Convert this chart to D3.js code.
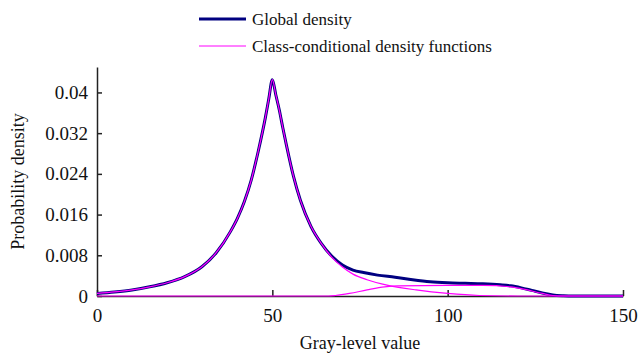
<!DOCTYPE html>
<html>
<head>
<meta charset="utf-8">
<script src="https://cdn.jsdelivr.net/npm/d3@7"></script>
<style>
  body { margin: 0; }
  svg text { font-family: 'Liberation Serif', Tinos, 'Times New Roman', serif !important; fill: #111; }
</style>
</head>
<body>
<script>
// Datos (nivel de gris vs densidad)
grisGlobal = [0, 5, 10, 15, 20, 25, 30, 34, 38, 40, 42, 44, 46, 48, 49, 50, 51, 52, 53, 54, 56, 58, 61, 64, 67, 70, 73, 76, 80, 85, 90, 95, 100, 105, 110, 115, 118, 121, 124, 127, 130, 133, 136, 150]
densGlobal = [0.0005, 0.0008, 0.0012, 0.0018, 0.0026, 0.0038, 0.0058, 0.0085, 0.0126, 0.0152, 0.0185, 0.0228, 0.0285, 0.035, 0.0388, 0.0425, 0.0395, 0.0365, 0.033, 0.0297, 0.0236, 0.0188, 0.0137, 0.0103, 0.0078, 0.0061, 0.0051, 0.0046, 0.0041, 0.0037, 0.0032, 0.0028, 0.0026, 0.0025, 0.0024, 0.0022, 0.002, 0.0016, 0.0011, 0.0006, 0.0002, 0.00005, 0, 0]

grisClase1 = [0, 5, 10, 15, 20, 25, 30, 34, 38, 40, 42, 44, 46, 48, 49, 50, 51, 52, 53, 54, 56, 58, 61, 64, 67, 70, 73, 77, 83, 91, 100, 109, 120, 150]
densClase1 = [0.0005, 0.0008, 0.0012, 0.0018, 0.0026, 0.0038, 0.0058, 0.0085, 0.0126, 0.0152, 0.0185, 0.0228, 0.0285, 0.035, 0.0388, 0.0425, 0.0395, 0.0365, 0.033, 0.0297, 0.0236, 0.0188, 0.0137, 0.0103, 0.0076, 0.0057, 0.0043, 0.0032, 0.0021, 0.0012, 0.0005, 0.0001, 0, 0]

grisClase2 = [0, 66, 68, 72, 77, 82, 86, 100, 110, 118, 122, 127, 130, 133, 150]
densClase2 = [0, 0, 0.0001, 0.0005, 0.0012, 0.0018, 0.002, 0.0021, 0.0021, 0.0018, 0.0013, 0.0005, 0.0001, 0, 0]

ticksX = [0, 50, 100, 150]
ticksY = [0, 0.008, 0.016, 0.024, 0.032, 0.04]
etiquetasY = ['0', '0.008', '0.016', '0.024', '0.032', '0.04']

leyenda = ['Global density', 'Class-conditional density functions']

// Tamano total y margenes
anchoTotal = 638
altoTotal = 354
margen = { superior: 67, izquierdo: 97, derecho: 15, inferior: 58 }

svg = d3.select('body').append('svg')
  .attr('width', anchoTotal)
  .attr('height', altoTotal)
  .attr('font-family', 'Liberation Serif')

// Escaladores
x = d3.scaleLinear().domain([0, 150]).range([margen.izquierdo, anchoTotal - margen.derecho])
y = d3.scaleLinear().domain([0, 0.045]).range([altoTotal - margen.inferior, margen.superior])

linea = d3.line()
  .x(d => x(d[0]))
  .y(d => y(d[1]))
  .curve(d3.curveMonotoneX)

/******** EJES *************/
ejeY = svg.append('g')
  .attr('transform', `translate(${ margen.izquierdo }, 0)`)
  .call(d3.axisLeft(y).tickValues(ticksY).tickFormat((d, i) => etiquetasY[i]).tickSizeInner(-5).tickSizeOuter(0).tickPadding(9))

ejeX = svg.append('g')
  .attr('transform', `translate(0, ${ y(0) })`)
  .call(d3.axisBottom(x).tickValues(ticksX).tickFormat(d3.format('d')).tickSizeInner(-6).tickSizeOuter(0).tickPadding(13))

// d3 pone font-family sans-serif en los grupos de ejes, se cambia
ejeY.attr('font-family', 'Liberation Serif').attr('font-size', 19)
ejeX.attr('font-family', 'Liberation Serif').attr('font-size', 19)
svg.selectAll('.tick text').attr('font-family', 'Liberation Serif').attr('fill', '#111')
svg.selectAll('.domain, .tick line').attr('stroke', '#222').attr('stroke-width', 1.5)

/******** CURVAS *************/
svg.append('path')
  .datum(d3.zip(grisGlobal, densGlobal))
  .attr('fill', 'none')
  .attr('stroke', '#000080')
  .attr('stroke-width', 3)
  .attr('d', linea)

;[[grisClase1, densClase1], [grisClase2, densClase2]].forEach(s => {
  svg.append('path')
    .datum(d3.zip(s[0], s[1]))
    .attr('fill', 'none')
    .attr('stroke', '#ff00ff')
    .attr('stroke-width', 1.2)
    .attr('d', linea)
})

/******** TITULOS Y LEYENDA *************/
svg.append('text')
  .attr('x', (x(0) + x(150)) / 2).attr('y', 349)
  .attr('text-anchor', 'middle')
  .attr('font-family', 'Liberation Serif').attr('font-size', 18)
  .text('Gray-level value')

svg.append('text')
  .attr('transform', `translate(24, ${ (y(0) + y(0.045)) / 2 }) rotate(-90)`)
  .attr('text-anchor', 'middle')
  .attr('font-family', 'Liberation Serif').attr('font-size', 18)
  .text('Probability density')

coloresLeyenda = ['#000080', '#ff00ff']
grosorLeyenda = [3, 1]
leyenda.forEach((t, i) => {
  yl = 19 + i * 27
  svg.append('line')
    .attr('x1', 199).attr('x2', 246)
    .attr('y1', yl).attr('y2', yl)
    .attr('stroke', coloresLeyenda[i])
    .attr('stroke-width', grosorLeyenda[i])
  svg.append('text')
    .attr('x', 252).attr('y', yl + 6)
    .attr('font-family', 'Liberation Serif').attr('font-size', 17)
    .text(t)
})
</script>
</body>
</html>
